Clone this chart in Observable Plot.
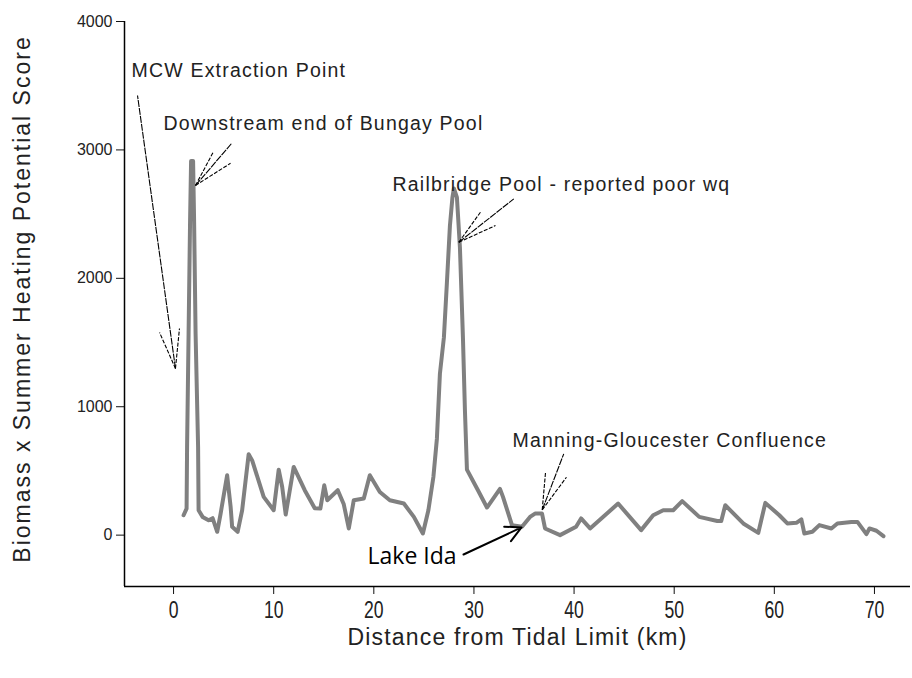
<!DOCTYPE html>
<html>
<head>
<meta charset="utf-8">
<script src="https://cdn.jsdelivr.net/npm/d3@7"></script>
<script src="https://cdn.jsdelivr.net/npm/@observablehq/plot@0.6"></script>
<style>
  body { margin: 0; background: #fff; }
  #chart svg { display: block; }
</style>
</head>
<body>
<div id="chart"></div>
<script>
// Distance downstream from the tidal limit (km) and the matching score
const distanceKm = [1.0,1.3,1.35,1.5,1.65,1.75,1.95,2.05,2.2,2.45,
  2.5,2.9,3.5,3.9,4.36,4.7,5.35,5.7,5.85,6.4,
  6.85,7.5,7.85,9.0,10.0,10.5,10.85,11.2,12.0,13.1,
  14.1,14.66,15.05,15.35,16.4,17.0,17.5,18.0,19.0,19.6,
  20.6,21.6,23.0,24.0,24.9,25.45,25.95,26.3,26.6,27.0,
  27.3,27.6,27.85,28.0,28.3,28.6,28.9,29.1,29.3,30.4,
  31.3,32.6,32.9,33.8,34.8,35.6,36.1,36.8,37.1,38.6,
  40.2,40.7,41.6,44.4,46.7,47.9,48.9,49.9,50.8,52.5,
  54.3,54.7,55.1,56.9,58.4,59.1,60.5,61.3,62.2,62.7,
  63.0,63.8,64.5,65.7,66.3,67.7,68.3,69.2,69.5,70.2,
  70.9];
const score = [155,207,686,1569,2454,2913,2913,2454,1569,686,
  194,142,116,132,26,168,466,220,65,26,
  194,630,582,298,194,510,375,160,531,350,
  210,207,388,272,350,240,52,272,285,466,
  336,272,246,142,13,194,453,751,1256,1540,
  1967,2408,2628,2700,2630,2240,1540,971,510,350,
  215,360,298,78,65,142,168,168,52,0,
  65,130,52,246,39,155,194,194,265,142,
  110,110,233,91,18,251,155,91,96,122,
  13,26,78,52,91,103,103,8,52,34,
  -8];

// Axis ticks and extents
const xTicks = [0,10,20,30,40,50,60,70];
const yTicks = [0,1000,2000,3000,4000];
const xDomain = [-4.9, 73.6];
const yDomain = [-400, 4000];

// Site labels (left edge of text, vertical middle)
const siteText = ["MCW Extraction Point", "Downstream end of Bungay Pool",
  "Railbridge Pool - reported poor wq", "Manning-Gloucester Confluence"];
const siteKm = [-4.2, -1.0, 21.87, 33.85];
const siteScore = [3618, 3206, 2731, 737];

// Pointer arrows for the site labels: tip, tail and the two head wings
const tipKm = [0.19, 2.19, 28.49, 36.82];
const tipScore = [1298, 2723, 2281, 197];
const tailKm = [-3.60, 5.79, 33.98, 38.97];
const tailScore = [3424, 3050, 2619, 633];
const wingAKm = [-1.40, 3.96, 30.65, 37.15];
const wingAScore = [1578, 2982, 2515, 490];
const wingBKm = [0.59, 5.69, 32.15, 39.24];
const wingBScore = [1609, 2896, 2411, 451];

// Lake Ida label and its arrow
const lakeText = ["Lake Ida"];
const lakeKm = [19.37];
const lakeScore = [-165];
const lakeArrowFrom = [28.96, -151];
const lakeArrowTo = [34.75, 60];

const xTitle = "Distance from Tidal Limit (km)";
const yTitle = "Biomass x Summer Heating Potential Score";

const profile = distanceKm.map((d, i) => ({km: d, score: score[i]}));
const sites = siteText.map((t, i) => ({text: t, km: siteKm[i], score: siteScore[i]}));
const shafts = tipKm.map((k, i) => ({x1: k, y1: tipScore[i], x2: tailKm[i], y2: tailScore[i]}));
const wings = tipKm.flatMap((k, i) => [
  {x1: k, y1: tipScore[i], x2: wingAKm[i], y2: wingAScore[i]},
  {x1: k, y1: tipScore[i], x2: wingBKm[i], y2: wingBScore[i]}
]);
const lake = lakeText.map((t, i) => ({text: t, km: lakeKm[i], score: lakeScore[i]}));

const sans = "'Liberation Sans', Arial, sans-serif";

const chart = Plot.plot({
  width: 912,
  height: 678,
  marginLeft: 124,
  marginRight: 2,
  marginTop: 21,
  marginBottom: 92,
  style: {fontFamily: sans, background: "#fff", color: "#111"},
  x: {domain: xDomain},
  y: {domain: yDomain},
  marks: [
    Plot.axisY({ticks: yTicks, tickFormat: d => String(d), tickSize: 8, tickPadding: 4, fontSize: 16, label: null, fill: "#222"}),
    Plot.axisX({ticks: xTicks, tickFormat: d => String(d), tickSize: 8, tickPadding: 7, fontSize: 20, label: null, fill: "#222",
      ariaDescription: "x ticks"}),
    Plot.ruleX([xDomain[0]], {stroke: "#000", strokeWidth: 1.5}),
    Plot.ruleY([yDomain[0]], {stroke: "#000", strokeWidth: 1.5}),
    Plot.line(profile, {x: "km", y: "score", stroke: "#808080", strokeWidth: 4}),
    Plot.link(shafts, {x1: "x1", y1: "y1", x2: "x2", y2: "y2", stroke: "#000", strokeWidth: 1.1, strokeDasharray: "7,1"}),
    Plot.link(wings, {x1: "x1", y1: "y1", x2: "x2", y2: "y2", stroke: "#000", strokeWidth: 1.1, strokeDasharray: "4,1.5"}),
    Plot.text(sites, {x: "km", y: "score", text: "text", textAnchor: "start", lineAnchor: "middle",
      fontSize: 19.5, fill: "#222", ariaDescription: "site labels"}),
    Plot.arrow([0], {x1: () => lakeArrowFrom[0], y1: () => lakeArrowFrom[1], x2: () => lakeArrowTo[0], y2: () => lakeArrowTo[1],
      stroke: "#000", strokeWidth: 2, headLength: 13, headAngle: 55}),
    Plot.text(lake, {x: "km", y: "score", text: "text", textAnchor: "start", lineAnchor: "middle",
      fontSize: 23, fontFamily: "'Open Sans', sans-serif", fill: "#000"}),
    Plot.text([xTitle], {frameAnchor: "bottom", dy: 51, textAnchor: "middle", lineAnchor: "middle", fontSize: 23, fill: "#222",
      ariaDescription: "x title"}),
    Plot.text([yTitle], {frameAnchor: "left", dx: -102, dy: -5, rotate: -90, textAnchor: "middle", lineAnchor: "middle",
      fontSize: 23, fill: "#222", ariaDescription: "y title"})
  ]
});

const svg = d3.select(chart);
svg.selectAll('g[aria-description="site labels"] text').style("letter-spacing", "1.2px");
svg.selectAll('g[aria-description="x title"] text').style("letter-spacing", "1.2px");
svg.selectAll('g[aria-description="y title"] text').style("letter-spacing", "2px");
// Tall, condensed digits on the distance axis
svg.selectAll('g[aria-description="x ticks"] text').attr("transform", function() {
  return (this.getAttribute("transform") || "") + " scale(0.88,1.15)";
});

document.getElementById("chart").append(chart);
</script>
</body>
</html>
